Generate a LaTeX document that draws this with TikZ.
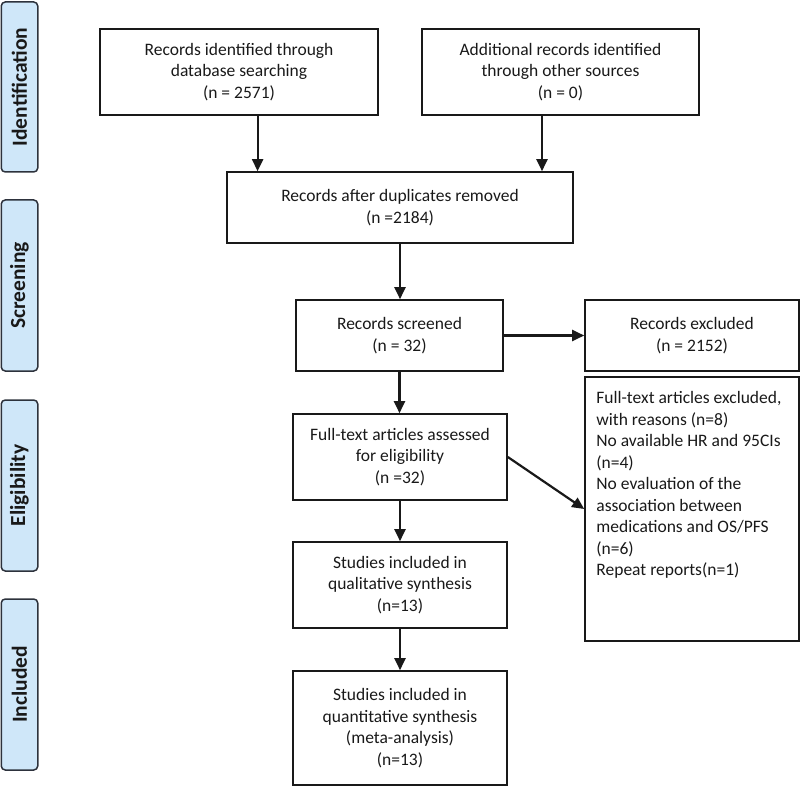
\documentclass[tikz,border=0pt]{standalone}
\usepackage{fontspec}
\setmainfont{Carlito}
\usetikzlibrary{arrows.meta}
\definecolor{labfill}{RGB}{207,231,249}
\definecolor{labdraw}{RGB}{45,50,60}
\definecolor{ink}{RGB}{25,25,25}
\begin{document}
\begin{tikzpicture}[x=1pt,y=-1pt,
  box/.style={draw=ink, line width=1.6pt, align=center, inner sep=0pt, text=ink,
    font=\fontsize{17.5}{21.5}\selectfont},
  lab/.style={draw=labdraw, fill=labfill, line width=1.5pt, rounded corners=4pt,
    rotate=90, inner sep=0pt, text=ink, font=\bfseries\fontsize{21.5}{24}\selectfont},
  arr/.style={draw=ink, line width=2.2pt, -{Triangle[length=12pt,width=11pt]}}]
\useasboundingbox (0,0) rectangle (800,786);

% stage labels
\node[lab, minimum width=170pt, minimum height=36.5pt] (idlab) at (19.5,87) {Identification};
\node[lab, minimum width=171pt, minimum height=36.5pt] (scrlab) at (19.5,285.5) {Screening};
\node[lab, minimum width=171pt, minimum height=36.5pt] (elilab) at (19.5,485.5) {Eligibility};
\node[lab, minimum width=171pt, minimum height=36.5pt] (inclab) at (19.5,684.5) {Included};

% boxes
\node[box, minimum width=278pt, minimum height=86pt] (b1) at (239,72)
  {Records identified through\\database searching\\(n = 2571)};
\node[box, minimum width=277pt, minimum height=86pt] (b2) at (560.5,72)
  {Additional records identified\\through other sources\\(n = 0)};
\node[box, minimum width=346pt, minimum height=71pt] (b3) at (400,207.5)
  {Records after duplicates removed\\(n =2184)};
\node[box, minimum width=207pt, minimum height=71pt] (scr) at (399.5,335.5)
  {Records screened\\(n = 32)};
\node[box, minimum width=214pt, minimum height=71pt] (excl) at (692,335.5)
  {Records excluded\\(n = 2152)};
\node[box, minimum width=214pt, minimum height=86pt] (ft) at (400,457)
  {Full-text articles assessed\\for eligibility\\(n =32)};
\node[box, minimum width=214pt, minimum height=264pt] (ftex) at (692,509) {};
\node[anchor=north west, align=left, inner sep=0pt, text=ink,
  font=\fontsize{17.5}{21.5}\selectfont] (ftext) at ([xshift=12pt,yshift=-15pt]ftex.north west)
  {Full-text articles excluded,\\with reasons (n=8)\\No available HR and 95CIs\\(n=4)\\No evaluation of the\\association between\\medications and OS/PFS\\(n=6)\\Repeat reports(n=1)};
\node[box, minimum width=214pt, minimum height=86pt] (qual) at (400,585)
  {Studies included in\\qualitative synthesis\\(n=13)};
\node[box, minimum width=214pt, minimum height=114pt] (quant) at (400,728)
  {Studies included in\\quantitative synthesis\\(meta-analysis)\\(n=13)};

% connectors
\coordinate (c1) at (257.6,0);
\coordinate (c2) at (542,0);
\draw[arr] (b1.south -| c1) -- (b3.north -| c1);
\draw[arr] (b2.south -| c2) -- (b3.north -| c2);
\draw[arr] (b3.south) -- (b3.south |- scr.north);
\draw[arr] (scr.east) -- (excl.west);
\draw[arr] (scr.south) -- (scr.south |- ft.north);
\draw[arr] (ft.east) -- (ftex.west);
\draw[arr] (ft.south) -- (qual.north);
\draw[arr] (qual.south) -- (quant.north);
\end{tikzpicture}
\end{document}
